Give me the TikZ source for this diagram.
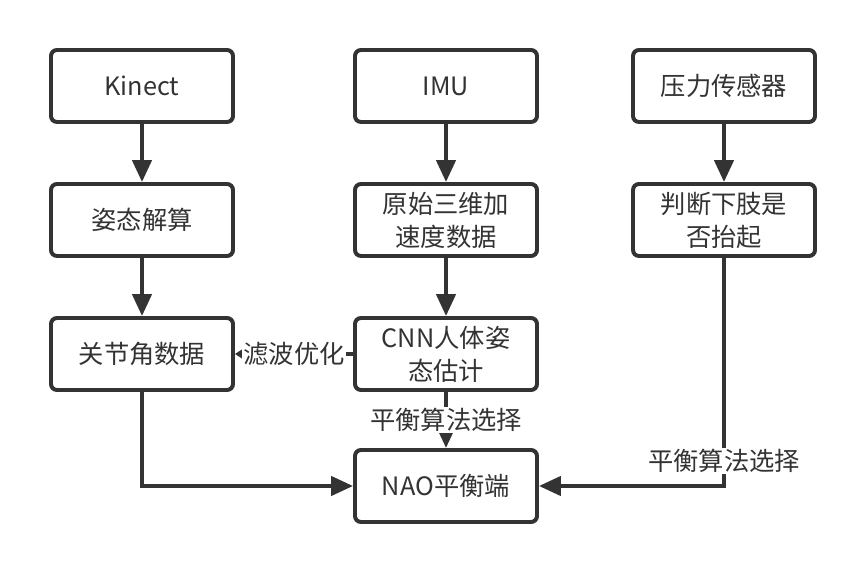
\documentclass[tikz,border=0pt]{standalone}
\usepackage{fontspec}
\setmainfont{Noto Sans CJK SC}
\usetikzlibrary{arrows.meta}
\definecolor{ink}{HTML}{333333}

\tikzset{
    procbox/.style={draw=ink, line width=2.8pt, rounded corners=0.15cm, fill=white,
        minimum width=4.55cm, minimum height=1.8cm, align=center, text=ink,
        font=\fontsize{18}{23.5}\selectfont},
    flow/.style={draw=ink, line width=2.8pt, -{Triangle[length=0.55cm,width=0.48cm]}},
    filterflow/.style={draw=ink, line width=2.8pt, -{Triangle[length=0.18cm,width=0.22cm]}},
    tag/.style={fill=white, text=ink, inner sep=1pt, font=\fontsize{18}{22}\selectfont}
}

\begin{document}
\begin{tikzpicture}
        \useasboundingbox (0,0) rectangle (21.65,14.35);

        % sources
        \node[procbox] (kinect) at (3.55,12.2) {Kinect};
        \node[procbox] (imu) at (11.15,12.2) {IMU};
        \node[procbox] (press) at (18.1,12.2) {压力传感器};

        % processing
        \node[procbox] (pose) at (3.55,8.85) {姿态解算};
        \node[procbox] (accel) at (11.15,8.85) {原始三维加\\速度数据};
        \node[procbox] (lift) at (18.1,8.85) {判断下肢是\\否抬起};
        \node[procbox] (joint) at (3.55,5.5) {关节角数据};
        \node[procbox] (cnn) at (11.15,5.5) {CNN人体姿\\态估计};

        % target
        \node[procbox] (nao) at (11.15,2.2) {NAO平衡端};

        \draw[flow] (kinect) -- (pose);
        \draw[flow] (pose) -- (joint);
        \draw[flow] (imu) -- (accel);
        \draw[flow] (accel) -- (cnn);
        \draw[flow] (press) -- (lift);
        \draw[filterflow] (cnn) -- node[tag] {滤波优化} (joint);
        \draw[flow] (cnn) -- node[tag] {平衡算法选择} (nao);
        \draw[flow] (joint) |- (nao);
        \draw[flow] (lift) |- node[tag,pos=0.445] {平衡算法选择} (nao);
    \end{tikzpicture}
\end{document}
